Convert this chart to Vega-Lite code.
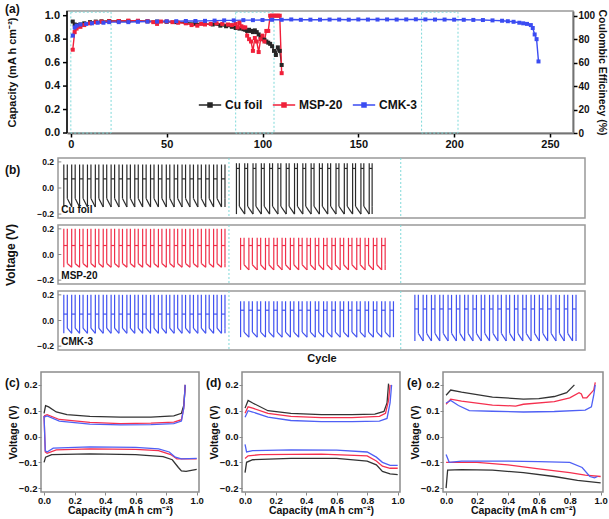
{
"$schema":"https://vega.github.io/schema/vega-lite/v6.json",
"padding":{"left":4,"top":2,"right":0,"bottom":0},
"config":{
 "font":"Liberation Sans",
 "view":{"stroke":"#8c8c8c","strokeWidth":1.5},
 "axis":{"grid":false,"labelOverlap":false,"labelFontWeight":"bold","titleFontWeight":"bold","labelColor":"#111","titleColor":"#111","labelFont":"Liberation Sans","titleFont":"Liberation Sans"},
 "title":{"font":"Liberation Sans","fontWeight":"bold","fontSize":12,"anchor":"start","frame":"group","color":"#111"}
},
"datasets":{
 "one":[{"f":1}],
 "yt":[{"t":0},{"t":0.2},{"t":0.4},{"t":0.6},{"t":0.8},{"t":1.0}],
 "bt":[{"t":-0.2},{"t":0},{"t":0.2}],
 "cap":[
  {"s":"Cu foil","c":1,"v":0.95},{"s":"Cu foil","c":2,"v":0.925},{"s":"Cu foil","c":3,"v":0.92},{"s":"Cu foil","c":5,"v":0.925},{"s":"Cu foil","c":7,"v":0.935},{"s":"Cu foil","c":10,"v":0.945},{"s":"Cu foil","c":13,"v":0.95},{"s":"Cu foil","c":16,"v":0.952},{"s":"Cu foil","c":20,"v":0.955},{"s":"Cu foil","c":25,"v":0.955},{"s":"Cu foil","c":30,"v":0.955},{"s":"Cu foil","c":35,"v":0.955},{"s":"Cu foil","c":40,"v":0.952},{"s":"Cu foil","c":45,"v":0.95},{"s":"Cu foil","c":50,"v":0.948},{"s":"Cu foil","c":55,"v":0.945},{"s":"Cu foil","c":60,"v":0.94},{"s":"Cu foil","c":65,"v":0.935},{"s":"Cu foil","c":70,"v":0.93},{"s":"Cu foil","c":74,"v":0.925},{"s":"Cu foil","c":78,"v":0.915},{"s":"Cu foil","c":81,"v":0.91},{"s":"Cu foil","c":84,"v":0.905},{"s":"Cu foil","c":86,"v":0.895},{"s":"Cu foil","c":88,"v":0.89},{"s":"Cu foil","c":90,"v":0.885},{"s":"Cu foil","c":91,"v":0.88},{"s":"Cu foil","c":92,"v":0.87},{"s":"Cu foil","c":93,"v":0.88},{"s":"Cu foil","c":94,"v":0.87},{"s":"Cu foil","c":95,"v":0.86},{"s":"Cu foil","c":96,"v":0.875},{"s":"Cu foil","c":97,"v":0.86},{"s":"Cu foil","c":98,"v":0.84},{"s":"Cu foil","c":99,"v":0.82},{"s":"Cu foil","c":100,"v":0.8},{"s":"Cu foil","c":101,"v":0.795},{"s":"Cu foil","c":102,"v":0.78},{"s":"Cu foil","c":103,"v":0.77},{"s":"Cu foil","c":104,"v":0.76},{"s":"Cu foil","c":105,"v":0.74},{"s":"Cu foil","c":106,"v":0.7},{"s":"Cu foil","c":107,"v":0.665},{"s":"Cu foil","c":108,"v":0.73},{"s":"Cu foil","c":109,"v":0.7},{"s":"Cu foil","c":110,"v":0.58},
  {"s":"MSP-20","c":1,"v":0.71},{"s":"MSP-20","c":2,"v":0.86},{"s":"MSP-20","c":3,"v":0.89},{"s":"MSP-20","c":5,"v":0.905},{"s":"MSP-20","c":7,"v":0.92},{"s":"MSP-20","c":10,"v":0.935},{"s":"MSP-20","c":13,"v":0.945},{"s":"MSP-20","c":16,"v":0.95},{"s":"MSP-20","c":20,"v":0.953},{"s":"MSP-20","c":25,"v":0.955},{"s":"MSP-20","c":30,"v":0.958},{"s":"MSP-20","c":35,"v":0.957},{"s":"MSP-20","c":40,"v":0.953},{"s":"MSP-20","c":43,"v":0.945},{"s":"MSP-20","c":45,"v":0.93},{"s":"MSP-20","c":47,"v":0.95},{"s":"MSP-20","c":50,"v":0.95},{"s":"MSP-20","c":53,"v":0.945},{"s":"MSP-20","c":56,"v":0.94},{"s":"MSP-20","c":60,"v":0.935},{"s":"MSP-20","c":63,"v":0.92},{"s":"MSP-20","c":66,"v":0.915},{"s":"MSP-20","c":68,"v":0.93},{"s":"MSP-20","c":70,"v":0.925},{"s":"MSP-20","c":73,"v":0.93},{"s":"MSP-20","c":76,"v":0.935},{"s":"MSP-20","c":79,"v":0.93},{"s":"MSP-20","c":82,"v":0.925},{"s":"MSP-20","c":84,"v":0.92},{"s":"MSP-20","c":86,"v":0.93},{"s":"MSP-20","c":87,"v":0.9},{"s":"MSP-20","c":88,"v":0.94},{"s":"MSP-20","c":89,"v":0.91},{"s":"MSP-20","c":90,"v":0.9},{"s":"MSP-20","c":91,"v":0.9},{"s":"MSP-20","c":92,"v":0.83},{"s":"MSP-20","c":93,"v":0.8},{"s":"MSP-20","c":94,"v":0.78},{"s":"MSP-20","c":95,"v":0.7},{"s":"MSP-20","c":96,"v":0.81},{"s":"MSP-20","c":97,"v":0.78},{"s":"MSP-20","c":98,"v":0.69},{"s":"MSP-20","c":99,"v":0.8},{"s":"MSP-20","c":100,"v":0.83},{"s":"MSP-20","c":101,"v":0.78},{"s":"MSP-20","c":102,"v":0.87},{"s":"MSP-20","c":103,"v":0.87},{"s":"MSP-20","c":104,"v":1.0},{"s":"MSP-20","c":105,"v":1.0},{"s":"MSP-20","c":106,"v":1.0},{"s":"MSP-20","c":107,"v":1.0},{"s":"MSP-20","c":108,"v":1.0},{"s":"MSP-20","c":109,"v":1.0},{"s":"MSP-20","c":110,"v":0.51},
  {"s":"CMK-3","c":1,"v":0.83},{"s":"CMK-3","c":2,"v":0.9},{"s":"CMK-3","c":3,"v":0.915},{"s":"CMK-3","c":5,"v":0.925},{"s":"CMK-3","c":8,"v":0.93},{"s":"CMK-3","c":11,"v":0.935},{"s":"CMK-3","c":14,"v":0.94},{"s":"CMK-3","c":17,"v":0.94},{"s":"CMK-3","c":20,"v":0.945},{"s":"CMK-3","c":25,"v":0.945},{"s":"CMK-3","c":30,"v":0.945},{"s":"CMK-3","c":35,"v":0.948},{"s":"CMK-3","c":40,"v":0.95},{"s":"CMK-3","c":45,"v":0.95},{"s":"CMK-3","c":50,"v":0.952},{"s":"CMK-3","c":55,"v":0.953},{"s":"CMK-3","c":60,"v":0.955},{"s":"CMK-3","c":65,"v":0.955},{"s":"CMK-3","c":70,"v":0.956},{"s":"CMK-3","c":75,"v":0.958},{"s":"CMK-3","c":80,"v":0.96},{"s":"CMK-3","c":85,"v":0.96},{"s":"CMK-3","c":90,"v":0.962},{"s":"CMK-3","c":95,"v":0.962},{"s":"CMK-3","c":100,"v":0.963},{"s":"CMK-3","c":105,"v":0.965},{"s":"CMK-3","c":110,"v":0.965},{"s":"CMK-3","c":115,"v":0.968},{"s":"CMK-3","c":120,"v":0.965},{"s":"CMK-3","c":125,"v":0.966},{"s":"CMK-3","c":130,"v":0.966},{"s":"CMK-3","c":135,"v":0.967},{"s":"CMK-3","c":140,"v":0.967},{"s":"CMK-3","c":145,"v":0.966},{"s":"CMK-3","c":150,"v":0.968},{"s":"CMK-3","c":155,"v":0.967},{"s":"CMK-3","c":160,"v":0.967},{"s":"CMK-3","c":165,"v":0.968},{"s":"CMK-3","c":170,"v":0.967},{"s":"CMK-3","c":175,"v":0.968},{"s":"CMK-3","c":180,"v":0.969},{"s":"CMK-3","c":185,"v":0.968},{"s":"CMK-3","c":190,"v":0.967},{"s":"CMK-3","c":195,"v":0.967},{"s":"CMK-3","c":200,"v":0.966},{"s":"CMK-3","c":205,"v":0.965},{"s":"CMK-3","c":210,"v":0.964},{"s":"CMK-3","c":215,"v":0.963},{"s":"CMK-3","c":220,"v":0.96},{"s":"CMK-3","c":225,"v":0.957},{"s":"CMK-3","c":228,"v":0.953},{"s":"CMK-3","c":231,"v":0.948},{"s":"CMK-3","c":234,"v":0.94},{"s":"CMK-3","c":236,"v":0.935},{"s":"CMK-3","c":238,"v":0.93},{"s":"CMK-3","c":240,"v":0.92},{"s":"CMK-3","c":241,"v":0.895},{"s":"CMK-3","c":242,"v":0.84},{"s":"CMK-3","c":243,"v":0.8},{"s":"CMK-3","c":244,"v":0.61}
 ],
 "rz":[{"x1":0,"x2":21},{"x1":86,"x2":106},{"x1":183,"x2":202}],
 "div":[{"x":20.6},{"x":41.3}],
 "lev":[
  {"k":"Cu1","lo":-0.145,"m":0.07,"hi":0.18,"n":-0.08},
  {"k":"Cu2","lo":-0.2,"m":0.15,"hi":0.19,"n":-0.14},
  {"k":"M1","lo":-0.1,"m":0.07,"hi":0.2,"n":-0.07},
  {"k":"M2","lo":-0.12,"m":0.07,"hi":0.13,"n":-0.08},
  {"k":"K1","lo":-0.1,"m":0.05,"hi":0.2,"n":-0.06},
  {"k":"K2","lo":-0.13,"m":0.08,"hi":0.15,"n":-0.09},
  {"k":"K3","lo":-0.16,"m":0.09,"hi":0.2,"n":-0.1}
 ],
 "cyc":[
  {"k":"Cu1","a":0.7,"b":1.12,"e":1.65},{"k":"Cu1","a":1.65,"b":2.07,"e":2.6},{"k":"Cu1","a":2.6,"b":3.02,"e":3.55},{"k":"Cu1","a":3.55,"b":3.97,"e":4.5},{"k":"Cu1","a":4.5,"b":4.92,"e":5.45},{"k":"Cu1","a":5.45,"b":5.87,"e":6.4},{"k":"Cu1","a":6.4,"b":6.82,"e":7.35},{"k":"Cu1","a":7.35,"b":7.77,"e":8.3},{"k":"Cu1","a":8.3,"b":8.72,"e":9.25},{"k":"Cu1","a":9.25,"b":9.67,"e":10.2},{"k":"Cu1","a":10.2,"b":10.62,"e":11.15},{"k":"Cu1","a":11.15,"b":11.57,"e":12.1},{"k":"Cu1","a":12.1,"b":12.52,"e":13.05},{"k":"Cu1","a":13.05,"b":13.47,"e":14.0},{"k":"Cu1","a":14.0,"b":14.42,"e":14.95},{"k":"Cu1","a":14.95,"b":15.37,"e":15.9},{"k":"Cu1","a":15.9,"b":16.32,"e":16.85},{"k":"Cu1","a":16.85,"b":17.27,"e":17.8},{"k":"Cu1","a":17.8,"b":18.22,"e":18.75},{"k":"Cu1","a":18.75,"b":19.17,"e":19.7},{"k":"Cu1","a":19.7,"b":20.12,"e":20.12},
  {"k":"M1","a":0.7,"b":1.12,"e":1.65},{"k":"M1","a":1.65,"b":2.07,"e":2.6},{"k":"M1","a":2.6,"b":3.02,"e":3.55},{"k":"M1","a":3.55,"b":3.97,"e":4.5},{"k":"M1","a":4.5,"b":4.92,"e":5.45},{"k":"M1","a":5.45,"b":5.87,"e":6.4},{"k":"M1","a":6.4,"b":6.82,"e":7.35},{"k":"M1","a":7.35,"b":7.77,"e":8.3},{"k":"M1","a":8.3,"b":8.72,"e":9.25},{"k":"M1","a":9.25,"b":9.67,"e":10.2},{"k":"M1","a":10.2,"b":10.62,"e":11.15},{"k":"M1","a":11.15,"b":11.57,"e":12.1},{"k":"M1","a":12.1,"b":12.52,"e":13.05},{"k":"M1","a":13.05,"b":13.47,"e":14.0},{"k":"M1","a":14.0,"b":14.42,"e":14.95},{"k":"M1","a":14.95,"b":15.37,"e":15.9},{"k":"M1","a":15.9,"b":16.32,"e":16.85},{"k":"M1","a":16.85,"b":17.27,"e":17.8},{"k":"M1","a":17.8,"b":18.22,"e":18.75},{"k":"M1","a":18.75,"b":19.17,"e":19.7},{"k":"M1","a":19.7,"b":20.12,"e":20.12},
  {"k":"K1","a":0.7,"b":1.12,"e":1.65},{"k":"K1","a":1.65,"b":2.07,"e":2.6},{"k":"K1","a":2.6,"b":3.02,"e":3.55},{"k":"K1","a":3.55,"b":3.97,"e":4.5},{"k":"K1","a":4.5,"b":4.92,"e":5.45},{"k":"K1","a":5.45,"b":5.87,"e":6.4},{"k":"K1","a":6.4,"b":6.82,"e":7.35},{"k":"K1","a":7.35,"b":7.77,"e":8.3},{"k":"K1","a":8.3,"b":8.72,"e":9.25},{"k":"K1","a":9.25,"b":9.67,"e":10.2},{"k":"K1","a":10.2,"b":10.62,"e":11.15},{"k":"K1","a":11.15,"b":11.57,"e":12.1},{"k":"K1","a":12.1,"b":12.52,"e":13.05},{"k":"K1","a":13.05,"b":13.47,"e":14.0},{"k":"K1","a":14.0,"b":14.42,"e":14.95},{"k":"K1","a":14.95,"b":15.37,"e":15.9},{"k":"K1","a":15.9,"b":16.32,"e":16.85},{"k":"K1","a":16.85,"b":17.27,"e":17.8},{"k":"K1","a":17.8,"b":18.22,"e":18.75},{"k":"K1","a":18.75,"b":19.17,"e":19.7},{"k":"K1","a":19.7,"b":20.12,"e":20.12},
  {"k":"Cu2","a":21.5,"b":21.85,"e":22.5},{"k":"Cu2","a":22.5,"b":22.85,"e":23.5},{"k":"Cu2","a":23.5,"b":23.85,"e":24.5},{"k":"Cu2","a":24.5,"b":24.85,"e":25.5},{"k":"Cu2","a":25.5,"b":25.85,"e":26.5},{"k":"Cu2","a":26.5,"b":26.85,"e":27.5},{"k":"Cu2","a":27.5,"b":27.85,"e":28.5},{"k":"Cu2","a":28.5,"b":28.85,"e":29.5},{"k":"Cu2","a":29.5,"b":29.85,"e":30.5},{"k":"Cu2","a":30.5,"b":30.85,"e":31.5},{"k":"Cu2","a":31.5,"b":31.85,"e":32.5},{"k":"Cu2","a":32.5,"b":32.85,"e":33.5},{"k":"Cu2","a":33.5,"b":33.85,"e":34.5},{"k":"Cu2","a":34.5,"b":34.85,"e":35.5},{"k":"Cu2","a":35.5,"b":35.85,"e":36.5},{"k":"Cu2","a":36.5,"b":36.85,"e":37.5},{"k":"Cu2","a":37.5,"b":37.85,"e":37.85},
  {"k":"M2","a":22.0,"b":22.42,"e":23.0},{"k":"M2","a":23.0,"b":23.42,"e":24.0},{"k":"M2","a":24.0,"b":24.42,"e":25.0},{"k":"M2","a":25.0,"b":25.42,"e":26.0},{"k":"M2","a":26.0,"b":26.42,"e":27.0},{"k":"M2","a":27.0,"b":27.42,"e":28.0},{"k":"M2","a":28.0,"b":28.42,"e":29.0},{"k":"M2","a":29.0,"b":29.42,"e":30.0},{"k":"M2","a":30.0,"b":30.42,"e":31.0},{"k":"M2","a":31.0,"b":31.42,"e":32.0},{"k":"M2","a":32.0,"b":32.42,"e":33.0},{"k":"M2","a":33.0,"b":33.42,"e":34.0},{"k":"M2","a":34.0,"b":34.42,"e":35.0},{"k":"M2","a":35.0,"b":35.42,"e":36.0},{"k":"M2","a":36.0,"b":36.42,"e":37.0},{"k":"M2","a":37.0,"b":37.42,"e":38.0},{"k":"M2","a":38.0,"b":38.42,"e":39.0},{"k":"M2","a":39.0,"b":39.42,"e":39.42},
  {"k":"K2","a":22.0,"b":22.42,"e":23.0},{"k":"K2","a":23.0,"b":23.42,"e":24.0},{"k":"K2","a":24.0,"b":24.42,"e":25.0},{"k":"K2","a":25.0,"b":25.42,"e":26.0},{"k":"K2","a":26.0,"b":26.42,"e":27.0},{"k":"K2","a":27.0,"b":27.42,"e":28.0},{"k":"K2","a":28.0,"b":28.42,"e":29.0},{"k":"K2","a":29.0,"b":29.42,"e":30.0},{"k":"K2","a":30.0,"b":30.42,"e":31.0},{"k":"K2","a":31.0,"b":31.42,"e":32.0},{"k":"K2","a":32.0,"b":32.42,"e":33.0},{"k":"K2","a":33.0,"b":33.42,"e":34.0},{"k":"K2","a":34.0,"b":34.42,"e":35.0},{"k":"K2","a":35.0,"b":35.42,"e":36.0},{"k":"K2","a":36.0,"b":36.42,"e":37.0},{"k":"K2","a":37.0,"b":37.42,"e":38.0},{"k":"K2","a":38.0,"b":38.42,"e":39.0},{"k":"K2","a":39.0,"b":39.42,"e":40.0},{"k":"K2","a":40.0,"b":40.42,"e":40.42},
  {"k":"K3","a":43.0,"b":43.42,"e":44.0},{"k":"K3","a":44.0,"b":44.42,"e":45.0},{"k":"K3","a":45.0,"b":45.42,"e":46.0},{"k":"K3","a":46.0,"b":46.42,"e":47.0},{"k":"K3","a":47.0,"b":47.42,"e":48.0},{"k":"K3","a":48.0,"b":48.42,"e":49.0},{"k":"K3","a":49.0,"b":49.42,"e":50.0},{"k":"K3","a":50.0,"b":50.42,"e":51.0},{"k":"K3","a":51.0,"b":51.42,"e":52.0},{"k":"K3","a":52.0,"b":52.42,"e":53.0},{"k":"K3","a":53.0,"b":53.42,"e":54.0},{"k":"K3","a":54.0,"b":54.42,"e":55.0},{"k":"K3","a":55.0,"b":55.42,"e":56.0},{"k":"K3","a":56.0,"b":56.42,"e":57.0},{"k":"K3","a":57.0,"b":57.42,"e":58.0},{"k":"K3","a":58.0,"b":58.42,"e":59.0},{"k":"K3","a":59.0,"b":59.42,"e":60.0},{"k":"K3","a":60.0,"b":60.42,"e":61.0},{"k":"K3","a":61.0,"b":61.42,"e":62.0},{"k":"K3","a":62.0,"b":62.42,"e":62.42}
 ],
 "vc":[
  {"p":"c","s":"Cu foil","h":"u","x":0,"y":0.09},{"p":"c","s":"Cu foil","h":"u","x":0.01,"y":0.12},{"p":"c","s":"Cu foil","h":"u","x":0.03,"y":0.115},{"p":"c","s":"Cu foil","h":"u","x":0.08,"y":0.095},{"p":"c","s":"Cu foil","h":"u","x":0.15,"y":0.085},{"p":"c","s":"Cu foil","h":"u","x":0.3,"y":0.078},{"p":"c","s":"Cu foil","h":"u","x":0.5,"y":0.075},{"p":"c","s":"Cu foil","h":"u","x":0.7,"y":0.075},{"p":"c","s":"Cu foil","h":"u","x":0.85,"y":0.08},{"p":"c","s":"Cu foil","h":"u","x":0.9,"y":0.09},{"p":"c","s":"Cu foil","h":"u","x":0.915,"y":0.12},{"p":"c","s":"Cu foil","h":"u","x":0.925,"y":0.2},
  {"p":"c","s":"MSP-20","h":"u","x":0,"y":0.08},{"p":"c","s":"MSP-20","h":"u","x":0.02,"y":0.085},{"p":"c","s":"MSP-20","h":"u","x":0.1,"y":0.066},{"p":"c","s":"MSP-20","h":"u","x":0.3,"y":0.055},{"p":"c","s":"MSP-20","h":"u","x":0.5,"y":0.05},{"p":"c","s":"MSP-20","h":"u","x":0.7,"y":0.052},{"p":"c","s":"MSP-20","h":"u","x":0.85,"y":0.056},{"p":"c","s":"MSP-20","h":"u","x":0.9,"y":0.065},{"p":"c","s":"MSP-20","h":"u","x":0.915,"y":0.11},{"p":"c","s":"MSP-20","h":"u","x":0.925,"y":0.2},
  {"p":"c","s":"CMK-3","h":"u","x":0,"y":0.075},{"p":"c","s":"CMK-3","h":"u","x":0.02,"y":0.08},{"p":"c","s":"CMK-3","h":"u","x":0.1,"y":0.06},{"p":"c","s":"CMK-3","h":"u","x":0.3,"y":0.048},{"p":"c","s":"CMK-3","h":"u","x":0.5,"y":0.045},{"p":"c","s":"CMK-3","h":"u","x":0.7,"y":0.046},{"p":"c","s":"CMK-3","h":"u","x":0.85,"y":0.05},{"p":"c","s":"CMK-3","h":"u","x":0.9,"y":0.06},{"p":"c","s":"CMK-3","h":"u","x":0.915,"y":0.11},{"p":"c","s":"CMK-3","h":"u","x":0.925,"y":0.2},
  {"p":"c","s":"Cu foil","h":"d","x":0,"y":-0.1},{"p":"c","s":"Cu foil","h":"d","x":0.01,"y":-0.08},{"p":"c","s":"Cu foil","h":"d","x":0.05,"y":-0.07},{"p":"c","s":"Cu foil","h":"d","x":0.3,"y":-0.067},{"p":"c","s":"Cu foil","h":"d","x":0.6,"y":-0.07},{"p":"c","s":"Cu foil","h":"d","x":0.78,"y":-0.078},{"p":"c","s":"Cu foil","h":"d","x":0.84,"y":-0.09},{"p":"c","s":"Cu foil","h":"d","x":0.88,"y":-0.12},{"p":"c","s":"Cu foil","h":"d","x":0.9,"y":-0.133},{"p":"c","s":"Cu foil","h":"d","x":0.93,"y":-0.135},{"p":"c","s":"Cu foil","h":"d","x":1.0,"y":-0.127},
  {"p":"c","s":"MSP-20","h":"d","x":0,"y":0.08},{"p":"c","s":"MSP-20","h":"d","x":0.008,"y":-0.06},{"p":"c","s":"MSP-20","h":"d","x":0.02,"y":-0.065},{"p":"c","s":"MSP-20","h":"d","x":0.08,"y":-0.052},{"p":"c","s":"MSP-20","h":"d","x":0.3,"y":-0.048},{"p":"c","s":"MSP-20","h":"d","x":0.6,"y":-0.05},{"p":"c","s":"MSP-20","h":"d","x":0.75,"y":-0.055},{"p":"c","s":"MSP-20","h":"d","x":0.83,"y":-0.07},{"p":"c","s":"MSP-20","h":"d","x":0.87,"y":-0.087},{"p":"c","s":"MSP-20","h":"d","x":1.0,"y":-0.087},
  {"p":"c","s":"CMK-3","h":"d","x":0,"y":0.08},{"p":"c","s":"CMK-3","h":"d","x":0.008,"y":-0.055},{"p":"c","s":"CMK-3","h":"d","x":0.02,"y":-0.06},{"p":"c","s":"CMK-3","h":"d","x":0.06,"y":-0.045},{"p":"c","s":"CMK-3","h":"d","x":0.3,"y":-0.04},{"p":"c","s":"CMK-3","h":"d","x":0.6,"y":-0.042},{"p":"c","s":"CMK-3","h":"d","x":0.75,"y":-0.048},{"p":"c","s":"CMK-3","h":"d","x":0.82,"y":-0.06},{"p":"c","s":"CMK-3","h":"d","x":0.86,"y":-0.08},{"p":"c","s":"CMK-3","h":"d","x":0.9,"y":-0.087},{"p":"c","s":"CMK-3","h":"d","x":1.0,"y":-0.085},
  {"p":"d","s":"Cu foil","h":"u","x":0,"y":0.11},{"p":"d","s":"Cu foil","h":"u","x":0.02,"y":0.14},{"p":"d","s":"Cu foil","h":"u","x":0.05,"y":0.13},{"p":"d","s":"Cu foil","h":"u","x":0.15,"y":0.1},{"p":"d","s":"Cu foil","h":"u","x":0.3,"y":0.09},{"p":"d","s":"Cu foil","h":"u","x":0.5,"y":0.085},{"p":"d","s":"Cu foil","h":"u","x":0.7,"y":0.085},{"p":"d","s":"Cu foil","h":"u","x":0.85,"y":0.087},{"p":"d","s":"Cu foil","h":"u","x":0.91,"y":0.097},{"p":"d","s":"Cu foil","h":"u","x":0.93,"y":0.13},{"p":"d","s":"Cu foil","h":"u","x":0.94,"y":0.205},
  {"p":"d","s":"MSP-20","h":"u","x":0,"y":0.09},{"p":"d","s":"MSP-20","h":"u","x":0.02,"y":0.115},{"p":"d","s":"MSP-20","h":"u","x":0.05,"y":0.11},{"p":"d","s":"MSP-20","h":"u","x":0.15,"y":0.09},{"p":"d","s":"MSP-20","h":"u","x":0.3,"y":0.078},{"p":"d","s":"MSP-20","h":"u","x":0.5,"y":0.073},{"p":"d","s":"MSP-20","h":"u","x":0.7,"y":0.073},{"p":"d","s":"MSP-20","h":"u","x":0.88,"y":0.078},{"p":"d","s":"MSP-20","h":"u","x":0.92,"y":0.09},{"p":"d","s":"MSP-20","h":"u","x":0.94,"y":0.14},{"p":"d","s":"MSP-20","h":"u","x":0.95,"y":0.2},
  {"p":"d","s":"CMK-3","h":"u","x":0,"y":0.075},{"p":"d","s":"CMK-3","h":"u","x":0.02,"y":0.1},{"p":"d","s":"CMK-3","h":"u","x":0.05,"y":0.095},{"p":"d","s":"CMK-3","h":"u","x":0.15,"y":0.075},{"p":"d","s":"CMK-3","h":"u","x":0.3,"y":0.062},{"p":"d","s":"CMK-3","h":"u","x":0.5,"y":0.058},{"p":"d","s":"CMK-3","h":"u","x":0.7,"y":0.058},{"p":"d","s":"CMK-3","h":"u","x":0.88,"y":0.06},{"p":"d","s":"CMK-3","h":"u","x":0.93,"y":0.07},{"p":"d","s":"CMK-3","h":"u","x":0.95,"y":0.13},{"p":"d","s":"CMK-3","h":"u","x":0.96,"y":0.2},
  {"p":"d","s":"Cu foil","h":"d","x":0,"y":-0.14},{"p":"d","s":"Cu foil","h":"d","x":0.01,"y":-0.1},{"p":"d","s":"Cu foil","h":"d","x":0.05,"y":-0.09},{"p":"d","s":"Cu foil","h":"d","x":0.3,"y":-0.085},{"p":"d","s":"Cu foil","h":"d","x":0.6,"y":-0.085},{"p":"d","s":"Cu foil","h":"d","x":0.8,"y":-0.095},{"p":"d","s":"Cu foil","h":"d","x":0.86,"y":-0.11},{"p":"d","s":"Cu foil","h":"d","x":0.9,"y":-0.135},{"p":"d","s":"Cu foil","h":"d","x":0.95,"y":-0.145},{"p":"d","s":"Cu foil","h":"d","x":1.0,"y":-0.148},
  {"p":"d","s":"MSP-20","h":"d","x":0,"y":-0.085},{"p":"d","s":"MSP-20","h":"d","x":0.02,"y":-0.075},{"p":"d","s":"MSP-20","h":"d","x":0.1,"y":-0.07},{"p":"d","s":"MSP-20","h":"d","x":0.5,"y":-0.068},{"p":"d","s":"MSP-20","h":"d","x":0.8,"y":-0.075},{"p":"d","s":"MSP-20","h":"d","x":0.86,"y":-0.095},{"p":"d","s":"MSP-20","h":"d","x":0.9,"y":-0.115},{"p":"d","s":"MSP-20","h":"d","x":0.95,"y":-0.123},{"p":"d","s":"MSP-20","h":"d","x":1.0,"y":-0.123},
  {"p":"d","s":"CMK-3","h":"d","x":0,"y":-0.03},{"p":"d","s":"CMK-3","h":"d","x":0.01,"y":-0.06},{"p":"d","s":"CMK-3","h":"d","x":0.05,"y":-0.055},{"p":"d","s":"CMK-3","h":"d","x":0.3,"y":-0.052},{"p":"d","s":"CMK-3","h":"d","x":0.6,"y":-0.053},{"p":"d","s":"CMK-3","h":"d","x":0.8,"y":-0.06},{"p":"d","s":"CMK-3","h":"d","x":0.86,"y":-0.08},{"p":"d","s":"CMK-3","h":"d","x":0.9,"y":-0.1},{"p":"d","s":"CMK-3","h":"d","x":0.95,"y":-0.112},{"p":"d","s":"CMK-3","h":"d","x":1.0,"y":-0.112},
  {"p":"e","s":"Cu foil","h":"u","x":0,"y":0.16},{"p":"e","s":"Cu foil","h":"u","x":0.03,"y":0.18},{"p":"e","s":"Cu foil","h":"u","x":0.1,"y":0.172},{"p":"e","s":"Cu foil","h":"u","x":0.3,"y":0.153},{"p":"e","s":"Cu foil","h":"u","x":0.5,"y":0.145},{"p":"e","s":"Cu foil","h":"u","x":0.6,"y":0.147},{"p":"e","s":"Cu foil","h":"u","x":0.7,"y":0.155},{"p":"e","s":"Cu foil","h":"u","x":0.78,"y":0.17},{"p":"e","s":"Cu foil","h":"u","x":0.83,"y":0.2},
  {"p":"e","s":"MSP-20","h":"u","x":0,"y":0.125},{"p":"e","s":"MSP-20","h":"u","x":0.03,"y":0.145},{"p":"e","s":"MSP-20","h":"u","x":0.1,"y":0.137},{"p":"e","s":"MSP-20","h":"u","x":0.3,"y":0.122},{"p":"e","s":"MSP-20","h":"u","x":0.45,"y":0.118},{"p":"e","s":"MSP-20","h":"u","x":0.5,"y":0.125},{"p":"e","s":"MSP-20","h":"u","x":0.7,"y":0.135},{"p":"e","s":"MSP-20","h":"u","x":0.8,"y":0.15},{"p":"e","s":"MSP-20","h":"u","x":0.86,"y":0.17},{"p":"e","s":"MSP-20","h":"u","x":0.875,"y":0.165},{"p":"e","s":"MSP-20","h":"u","x":0.885,"y":0.15},{"p":"e","s":"MSP-20","h":"u","x":0.91,"y":0.15},{"p":"e","s":"MSP-20","h":"u","x":0.94,"y":0.17},{"p":"e","s":"MSP-20","h":"u","x":0.955,"y":0.18},{"p":"e","s":"MSP-20","h":"u","x":0.965,"y":0.21},
  {"p":"e","s":"CMK-3","h":"u","x":0,"y":0.13},{"p":"e","s":"CMK-3","h":"u","x":0.03,"y":0.14},{"p":"e","s":"CMK-3","h":"u","x":0.08,"y":0.12},{"p":"e","s":"CMK-3","h":"u","x":0.15,"y":0.1},{"p":"e","s":"CMK-3","h":"u","x":0.3,"y":0.098},{"p":"e","s":"CMK-3","h":"u","x":0.5,"y":0.095},{"p":"e","s":"CMK-3","h":"u","x":0.7,"y":0.097},{"p":"e","s":"CMK-3","h":"u","x":0.9,"y":0.102},{"p":"e","s":"CMK-3","h":"u","x":0.94,"y":0.115},{"p":"e","s":"CMK-3","h":"u","x":0.955,"y":0.16},{"p":"e","s":"CMK-3","h":"u","x":0.965,"y":0.2},
  {"p":"e","s":"Cu foil","h":"d","x":0,"y":-0.2},{"p":"e","s":"Cu foil","h":"d","x":0.01,"y":-0.13},{"p":"e","s":"Cu foil","h":"d","x":0.1,"y":-0.128},{"p":"e","s":"Cu foil","h":"d","x":0.3,"y":-0.13},{"p":"e","s":"Cu foil","h":"d","x":0.5,"y":-0.14},{"p":"e","s":"Cu foil","h":"d","x":0.7,"y":-0.155},{"p":"e","s":"Cu foil","h":"d","x":0.85,"y":-0.17},{"p":"e","s":"Cu foil","h":"d","x":1.0,"y":-0.18},
  {"p":"e","s":"MSP-20","h":"d","x":0,"y":-0.1},{"p":"e","s":"MSP-20","h":"d","x":0.05,"y":-0.1},{"p":"e","s":"MSP-20","h":"d","x":0.2,"y":-0.1},{"p":"e","s":"MSP-20","h":"d","x":0.4,"y":-0.11},{"p":"e","s":"MSP-20","h":"d","x":0.6,"y":-0.125},{"p":"e","s":"MSP-20","h":"d","x":0.8,"y":-0.14},{"p":"e","s":"MSP-20","h":"d","x":0.9,"y":-0.15},{"p":"e","s":"MSP-20","h":"d","x":1.0,"y":-0.155},
  {"p":"e","s":"CMK-3","h":"d","x":0,"y":-0.07},{"p":"e","s":"CMK-3","h":"d","x":0.02,"y":-0.1},{"p":"e","s":"CMK-3","h":"d","x":0.1,"y":-0.095},{"p":"e","s":"CMK-3","h":"d","x":0.4,"y":-0.095},{"p":"e","s":"CMK-3","h":"d","x":0.6,"y":-0.097},{"p":"e","s":"CMK-3","h":"d","x":0.8,"y":-0.1},{"p":"e","s":"CMK-3","h":"d","x":0.88,"y":-0.12},{"p":"e","s":"CMK-3","h":"d","x":0.93,"y":-0.155},{"p":"e","s":"CMK-3","h":"d","x":0.96,"y":-0.16},{"p":"e","s":"CMK-3","h":"d","x":0.98,"y":-0.155}
 ]
},
"vconcat":[
 {
  "width":532,"height":122,
  "view":{"stroke":null},
  "title":{"text":"(a)","dx":-36,"offset":-7},
  "layer":[
   {"layer":[
     {"data":{"name":"one"},"mark":{"type":"rect","fill":null,"stroke":"#999999","strokeWidth":1.5},
      "encoding":{
       "x":{"datum":-2,"type":"quantitative","scale":{"domain":[-2,262],"range":[26,532],"nice":false,"zero":false},"axis":{"values":[0,50,100,150,200,250],"title":null,"labelOverlap":false,"labelFontSize":11,"tickSize":4,"domainColor":"#000","tickColor":"#000","domainWidth":1.5,"tickWidth":1.5,"labelPadding":1}},
       "x2":{"datum":262},
       "y":{"datum":0,"type":"quantitative","scale":{"domain":[0,1.04],"nice":false,"zero":false},"axis":{"values":[0,0.5,1.0],"labels":false,"domain":false,"ticks":false,"title":"Capacity (mA h cm⁻²)","titleX":-24,"titleFontSize":11}},
       "y2":{"datum":1.04}
      }},
     {"data":{"name":"one"},"mark":{"type":"rule","color":"#000000","strokeWidth":1.5},
      "encoding":{"x":{"datum":-2,"type":"quantitative"}}},
     {"data":{"name":"yt"},"mark":{"type":"rule","color":"#000000","strokeWidth":1.5},
      "encoding":{"x":{"datum":-4.1,"type":"quantitative"},"x2":{"datum":-2},"y":{"field":"t","type":"quantitative"}}},
     {"data":{"name":"yt"},"mark":{"type":"text","align":"right","baseline":"middle","dx":-7,"fontSize":11,"fontWeight":"bold","font":"Liberation Sans","color":"#111"},
      "encoding":{"x":{"datum":-2,"type":"quantitative"},"y":{"field":"t","type":"quantitative"},"text":{"field":"t","type":"quantitative","format":".1f"}}},
     {"data":{"name":"rz"},"mark":{"type":"rect","fill":null,"stroke":"#7fd9d9","strokeDash":[2,2],"strokeWidth":1},
      "encoding":{"x":{"field":"x1","type":"quantitative"},"x2":{"field":"x2"},"y":{"datum":0,"type":"quantitative"},"y2":{"datum":1.03}}},
     {"data":{"name":"cap"},"mark":{"type":"line","strokeWidth":1.4,"point":{"shape":"square","filled":true,"size":16}},
      "encoding":{
       "x":{"field":"c","type":"quantitative"},
       "y":{"field":"v","type":"quantitative"},
       "color":{"field":"s","type":"nominal","scale":{"domain":["Cu foil","MSP-20","CMK-3"],"range":["#262626","#f0203a","#3b4cf2"]},
        "legend":{"orient":"none","legendX":157,"legendY":82,"direction":"horizontal","title":null,"labelFontSize":12,"labelFontWeight":"bold","labelFont":"Liberation Sans","labelColor":"#111","symbolType":"M-1,0L1,0M-0.18,-0.18L0.18,-0.18L0.18,0.18L-0.18,0.18Z","symbolSize":500,"symbolStrokeWidth":1.5,"columnPadding":6,"labelOffset":3}}
      }}
   ]},
   {"data":{"name":"cap"},"mark":{"type":"point","opacity":0},
    "encoding":{
     "x":{"field":"c","type":"quantitative"},
     "y":{"field":"v","type":"quantitative","scale":{"domain":[0,1.04],"nice":false,"zero":false},"axis":{"orient":"right","values":[0,0.2,0.4,0.6,0.8,1.0],"labelOverlap":false,"labelExpr":"format(datum.value*100,'d')","title":"Coulombic Efficinecy (%)","labelFontSize":10,"titleFontSize":10.5,"tickSize":4,"domainColor":"#000","tickColor":"#000","domainWidth":1.5,"tickWidth":1.5,"labelPadding":1,"titlePadding":2}}
    }}
  ],
  "resolve":{"scale":{"y":"independent"},"axis":{"y":"independent"}}
 },
 {
  "vconcat":[
   {
    "width":544,"height":60,
    "view":{"stroke":null},
    "title":{"text":"(b)","dx":-36,"offset":-20},
    "layer":[
     {"data":{"name":"one"},"mark":{"type":"rect","fill":null,"stroke":"#999999","strokeWidth":1.5},
      "encoding":{"x":{"datum":0,"type":"quantitative","scale":{"domain":[0,63.5],"range":[17,544],"nice":false,"zero":false},"axis":{"labels":false,"ticks":false,"domain":false,"title":null}},"x2":{"datum":63.5},
       "y":{"datum":-0.23,"type":"quantitative","scale":{"domain":[-0.23,0.23],"nice":false,"zero":false},"axis":null},"y2":{"datum":0.23}}},
     {"data":{"name":"bt"},"mark":{"type":"rule","color":"#888888","strokeWidth":1},
      "encoding":{"x":{"datum":0,"type":"quantitative"},"x2":{"datum":0.4},"y":{"field":"t","type":"quantitative","axis":null}}},
     {"data":{"name":"bt"},"mark":{"type":"text","align":"right","baseline":"middle","dx":-4,"fontSize":8.5,"fontWeight":"bold","font":"Liberation Sans","color":"#111"},
      "encoding":{"x":{"datum":0,"type":"quantitative"},"y":{"field":"t","type":"quantitative","axis":null},"text":{"field":"t","type":"quantitative","format":".1f"}}},
     {"data":{"name":"div"},"mark":{"type":"rule","stroke":"#7fd9d9","strokeDash":[2,2],"strokeWidth":1},
      "encoding":{"x":{"field":"x","type":"quantitative"}}},
     {"data":{"values":[{"t":"Cu foil"}]},"mark":{"type":"text","align":"left","baseline":"middle","fontSize":10,"fontWeight":"bold","font":"Liberation Sans","color":"#111"},
      "encoding":{"x":{"datum":0.4,"type":"quantitative"},"y":{"datum":-0.17,"type":"quantitative","axis":null},"text":{"field":"t"}}},
     {"data":{"name":"cyc"},
      "transform":[{"filter":{"field":"k","oneOf":["Cu1","Cu2"]}},{"lookup":"k","from":{"data":{"name":"lev"},"key":"k","fields":["lo","m","hi","n"]}}],
      "encoding":{"color":{"value":"#2a2a2a"}},
      "layer":[
       {"mark":{"type":"rule","strokeWidth":1.2},"encoding":{"x":{"field":"a","type":"quantitative"},"y":{"field":"lo","type":"quantitative","axis":null},"y2":{"field":"hi"}}},
       {"mark":{"type":"rule","strokeWidth":1.2},"encoding":{"x":{"field":"a","type":"quantitative"},"x2":{"field":"b"},"y":{"field":"m","type":"quantitative","axis":null}}},
       {"mark":{"type":"rule","strokeWidth":1.2},"encoding":{"x":{"field":"b","type":"quantitative"},"y":{"field":"n","type":"quantitative","axis":null},"y2":{"field":"hi"}}},
       {"mark":{"type":"rule","strokeWidth":1.2},"encoding":{"x":{"field":"b","type":"quantitative"},"x2":{"field":"e"},"y":{"field":"n","type":"quantitative","axis":null},"y2":{"field":"lo"}}}
      ]}
    ]
   },
   {
    "width":544,"height":59,
    "view":{"stroke":null},
    "layer":[
     {"data":{"name":"one"},"mark":{"type":"rect","fill":null,"stroke":"#999999","strokeWidth":1.5},
      "encoding":{"x":{"datum":0,"type":"quantitative","scale":{"domain":[0,63.5],"range":[17,544],"nice":false,"zero":false},"axis":{"labels":false,"ticks":false,"domain":false,"title":null}},"x2":{"datum":63.5},
       "y":{"datum":-0.23,"type":"quantitative","scale":{"domain":[-0.23,0.23],"nice":false,"zero":false},"axis":{"values":[0],"labels":false,"ticks":false,"domain":false,"title":"Voltage (V)","titleX":-24,"titleFontSize":12}},"y2":{"datum":0.23}}},
     {"data":{"name":"bt"},"mark":{"type":"rule","color":"#888888","strokeWidth":1},
      "encoding":{"x":{"datum":0,"type":"quantitative"},"x2":{"datum":0.4},"y":{"field":"t","type":"quantitative"}}},
     {"data":{"name":"bt"},"mark":{"type":"text","align":"right","baseline":"middle","dx":-4,"fontSize":8.5,"fontWeight":"bold","font":"Liberation Sans","color":"#111"},
      "encoding":{"x":{"datum":0,"type":"quantitative"},"y":{"field":"t","type":"quantitative"},"text":{"field":"t","type":"quantitative","format":".1f"}}},
     {"data":{"name":"div"},"mark":{"type":"rule","stroke":"#7fd9d9","strokeDash":[2,2],"strokeWidth":1},
      "encoding":{"x":{"field":"x","type":"quantitative"}}},
     {"data":{"values":[{"t":"MSP-20"}]},"mark":{"type":"text","align":"left","baseline":"middle","fontSize":10,"fontWeight":"bold","font":"Liberation Sans","color":"#111"},
      "encoding":{"x":{"datum":0.4,"type":"quantitative"},"y":{"datum":-0.17,"type":"quantitative"},"text":{"field":"t"}}},
     {"data":{"name":"cyc"},
      "transform":[{"filter":{"field":"k","oneOf":["M1","M2"]}},{"lookup":"k","from":{"data":{"name":"lev"},"key":"k","fields":["lo","m","hi","n"]}}],
      "encoding":{"color":{"value":"#f0304a"}},
      "layer":[
       {"mark":{"type":"rule","strokeWidth":1.2},"encoding":{"x":{"field":"a","type":"quantitative"},"y":{"field":"lo","type":"quantitative"},"y2":{"field":"hi"}}},
       {"mark":{"type":"rule","strokeWidth":1.2},"encoding":{"x":{"field":"a","type":"quantitative"},"x2":{"field":"b"},"y":{"field":"m","type":"quantitative"}}},
       {"mark":{"type":"rule","strokeWidth":1.2},"encoding":{"x":{"field":"b","type":"quantitative"},"y":{"field":"n","type":"quantitative"},"y2":{"field":"hi"}}},
       {"mark":{"type":"rule","strokeWidth":1.2},"encoding":{"x":{"field":"b","type":"quantitative"},"x2":{"field":"e"},"y":{"field":"n","type":"quantitative"},"y2":{"field":"lo"}}}
      ]}
    ]
   },
   {
    "width":544,"height":59,
    "view":{"stroke":null},
    "layer":[
     {"data":{"name":"one"},"mark":{"type":"rect","fill":null,"stroke":"#999999","strokeWidth":1.5},
      "encoding":{"x":{"datum":0,"type":"quantitative","scale":{"domain":[0,63.5],"range":[17,544],"nice":false,"zero":false},"axis":{"title":"Cycle","labels":false,"ticks":false,"domain":false,"titleFontSize":11,"titlePadding":2}},"x2":{"datum":63.5},
       "y":{"datum":-0.23,"type":"quantitative","scale":{"domain":[-0.23,0.23],"nice":false,"zero":false},"axis":null},"y2":{"datum":0.23}}},
     {"data":{"name":"bt"},"mark":{"type":"rule","color":"#888888","strokeWidth":1},
      "encoding":{"x":{"datum":0,"type":"quantitative"},"x2":{"datum":0.4},"y":{"field":"t","type":"quantitative","axis":null}}},
     {"data":{"name":"bt"},"mark":{"type":"text","align":"right","baseline":"middle","dx":-4,"fontSize":8.5,"fontWeight":"bold","font":"Liberation Sans","color":"#111"},
      "encoding":{"x":{"datum":0,"type":"quantitative"},"y":{"field":"t","type":"quantitative","axis":null},"text":{"field":"t","type":"quantitative","format":".1f"}}},
     {"data":{"name":"div"},"mark":{"type":"rule","stroke":"#7fd9d9","strokeDash":[2,2],"strokeWidth":1},
      "encoding":{"x":{"field":"x","type":"quantitative"}}},
     {"data":{"values":[{"t":"CMK-3"}]},"mark":{"type":"text","align":"left","baseline":"middle","fontSize":10,"fontWeight":"bold","font":"Liberation Sans","color":"#111"},
      "encoding":{"x":{"datum":0.4,"type":"quantitative"},"y":{"datum":-0.17,"type":"quantitative","axis":null},"text":{"field":"t"}}},
     {"data":{"name":"cyc"},
      "transform":[{"filter":{"field":"k","oneOf":["K1","K2","K3"]}},{"lookup":"k","from":{"data":{"name":"lev"},"key":"k","fields":["lo","m","hi","n"]}}],
      "encoding":{"color":{"value":"#4152f0"}},
      "layer":[
       {"mark":{"type":"rule","strokeWidth":1.2},"encoding":{"x":{"field":"a","type":"quantitative"},"y":{"field":"lo","type":"quantitative","axis":null},"y2":{"field":"hi"}}},
       {"mark":{"type":"rule","strokeWidth":1.2},"encoding":{"x":{"field":"a","type":"quantitative"},"x2":{"field":"b"},"y":{"field":"m","type":"quantitative","axis":null}}},
       {"mark":{"type":"rule","strokeWidth":1.2},"encoding":{"x":{"field":"b","type":"quantitative"},"y":{"field":"n","type":"quantitative","axis":null},"y2":{"field":"hi"}}},
       {"mark":{"type":"rule","strokeWidth":1.2},"encoding":{"x":{"field":"b","type":"quantitative"},"x2":{"field":"e"},"y":{"field":"n","type":"quantitative","axis":null},"y2":{"field":"lo"}}}
      ]}
    ]
   }
  ],
  "spacing":4
 },
 {
  "hconcat":[
   {
    "width":158,"height":120,
    "title":{"text":"(c)","dx":-36,"offset":-18},
    "data":{"name":"vc"},
    "transform":[{"filter":"datum.p == 'c'"}],
    "mark":{"type":"line","strokeWidth":1.3},
    "encoding":{
     "x":{"field":"x","type":"quantitative","scale":{"domain":[-0.02,1.015],"nice":false,"zero":false},"axis":{"values":[0,0.2,0.4,0.6,0.8,1],"format":".1f","title":"Capacity (mA h cm⁻²)","labelFontSize":9.5,"titleFontSize":10.5,"tickSize":3,"tickColor":"#888","domain":false,"labelPadding":0,"titlePadding":1}},
     "y":{"field":"y","type":"quantitative","scale":{"domain":[-0.215,0.25],"nice":false,"zero":false},"axis":{"values":[-0.2,-0.1,0,0.1,0.2],"format":".1f","title":"Voltage (V)","labelFontSize":9.5,"titleFontSize":10.5,"tickSize":3,"tickColor":"#888","domain":false,"labelPadding":1,"titlePadding":0}},
     "color":{"field":"s","type":"nominal","scale":{"domain":["Cu foil","MSP-20","CMK-3"],"range":["#333333","#f5304f","#4f60f5"]},"legend":null},
     "detail":{"field":"h"}
    }
   },
   {
    "width":158,"height":120,
    "title":{"text":"(d)","dx":-36,"offset":-18},
    "data":{"name":"vc"},
    "transform":[{"filter":"datum.p == 'd'"}],
    "mark":{"type":"line","strokeWidth":1.3},
    "encoding":{
     "x":{"field":"x","type":"quantitative","scale":{"domain":[-0.02,1.015],"nice":false,"zero":false},"axis":{"values":[0,0.2,0.4,0.6,0.8,1],"format":".1f","title":"Capacity (mA h cm⁻²)","labelFontSize":9.5,"titleFontSize":10.5,"tickSize":3,"tickColor":"#888","domain":false,"labelPadding":0,"titlePadding":1}},
     "y":{"field":"y","type":"quantitative","scale":{"domain":[-0.215,0.25],"nice":false,"zero":false},"axis":{"values":[-0.2,-0.1,0,0.1,0.2],"format":".1f","title":"Voltage (V)","labelFontSize":9.5,"titleFontSize":10.5,"tickSize":3,"tickColor":"#888","domain":false,"labelPadding":1,"titlePadding":0}},
     "color":{"field":"s","type":"nominal","scale":{"domain":["Cu foil","MSP-20","CMK-3"],"range":["#333333","#f5304f","#4f60f5"]},"legend":null},
     "detail":{"field":"h"}
    }
   },
   {
    "width":160,"height":120,
    "title":{"text":"(e)","dx":-36,"offset":-18},
    "data":{"name":"vc"},
    "transform":[{"filter":"datum.p == 'e'"}],
    "mark":{"type":"line","strokeWidth":1.3},
    "encoding":{
     "x":{"field":"x","type":"quantitative","scale":{"domain":[-0.02,1.015],"nice":false,"zero":false},"axis":{"values":[0,0.2,0.4,0.6,0.8,1],"format":".1f","title":"Capacity (mA h cm⁻²)","labelFontSize":9.5,"titleFontSize":10.5,"tickSize":3,"tickColor":"#888","domain":false,"labelPadding":0,"titlePadding":1}},
     "y":{"field":"y","type":"quantitative","scale":{"domain":[-0.215,0.25],"nice":false,"zero":false},"axis":{"values":[-0.2,-0.1,0,0.1,0.2],"format":".1f","title":"Voltage (V)","labelFontSize":9.5,"titleFontSize":10.5,"tickSize":3,"tickColor":"#888","domain":false,"labelPadding":1,"titlePadding":0}},
     "color":{"field":"s","type":"nominal","scale":{"domain":["Cu foil","MSP-20","CMK-3"],"range":["#333333","#f5304f","#4f60f5"]},"legend":null},
     "detail":{"field":"h"}
    }
   }
  ],
  "spacing":0
 }
],
"spacing":8,
"resolve":{"scale":{"color":"independent"}}
}
